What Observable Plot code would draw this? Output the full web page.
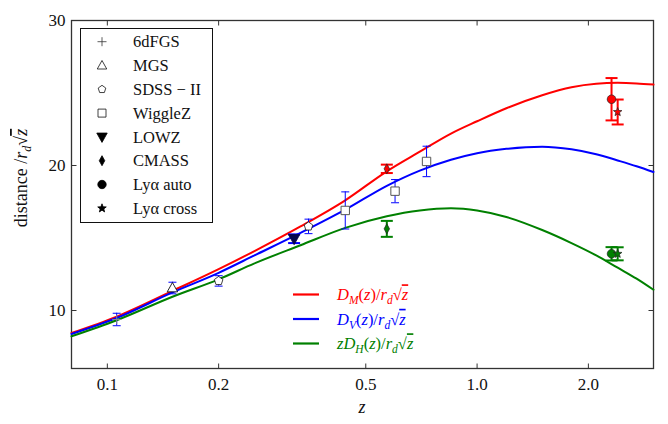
<!DOCTYPE html>
<html>
<head>
<meta charset="utf-8">
<script src="https://cdn.jsdelivr.net/npm/d3@7"></script>
<script src="https://cdn.jsdelivr.net/npm/@observablehq/plot@0.6"></script>
<style>
  html, body { margin: 0; padding: 0; background: white; }
  #chart { width: 668px; height: 424px; }
</style>
</head>
<body>
<div id="chart"></div>
<script>
// ---- model curves ----
const curveZ = [0.08, 0.106, 0.15, 0.2, 0.25, 0.333, 0.44, 0.57, 0.7, 0.85, 1.0, 1.2, 1.5, 1.8, 2.1, 2.4, 2.7, 3.0];
const dM  = [8.45, 9.58, 11.35, 12.85, 14.1, 15.8, 17.6, 19.6, 20.95, 22.2, 23.05, 23.95, 24.85, 25.4, 25.64, 25.7, 25.66, 25.58];
const dV  = [8.38, 9.48, 11.25, 12.6, 13.8, 15.35, 16.95, 18.6, 19.65, 20.4, 20.85, 21.15, 21.3, 21.12, 20.78, 20.35, 19.95, 19.55];
const zdH = [8.22, 9.33, 10.95, 12.15, 13.25, 14.5, 15.7, 16.5, 16.9, 17.05, 16.9, 16.45, 15.55, 14.65, 13.8, 12.95, 12.2, 11.43];

// ---- measurements ----
const pointSurvey = ["6dFGS","MGS","SDSS-II","SDSS-II","WiggleZ","WiggleZ","WiggleZ","LOWZ","CMASS","CMASS","Lya auto","Lya auto","Lya cross","Lya cross"];
const pointQty    = ["DV","DV","DV","DV","DV","DV","DV","DV","DM","DH","DM","DH","DM","DH"];
const pointZ      = [0.106, 0.15, 0.2, 0.35, 0.44, 0.6, 0.73, 0.32, 0.57, 0.57, 2.31, 2.31, 2.40, 2.40];
const pointVal    = [9.38, 11.55, 12.04, 15.8, 16.9, 18.23, 20.28, 14.95, 19.77, 15.63, 24.57, 13.91, 23.69, 13.91];
const pointErr    = [0.43, 0.4, 0.36, 0.5, 1.28, 0.8, 1.05, 0.3, 0.29, 0.55, 1.46, 0.46, 0.86, 0.45];

// ---- axes / legend text ----
const xTicks = [0.1, 0.2, 0.5, 1.0, 2.0];
const yTicks = [10, 20, 30];
const legendSurveys = ["6dFGS", "MGS", "SDSS \u2212 II", "WiggleZ", "LOWZ", "CMASS", "Ly\u03b1 auto", "Ly\u03b1 cross"];
const legendKeys = ["6dFGS","MGS","SDSS-II","WiggleZ","LOWZ","CMASS","Lya auto","Lya cross"];

// ---- styles ----
const qtyColor = {DM: "#ff0000", DV: "#0000ff", DH: "#008000"};
const thickSurveys = new Set(["LOWZ","CMASS","Lya auto","Lya cross"]);

function sym(fn) { return {draw(ctx, size) { fn(ctx, Math.sqrt(size / Math.PI)); }}; }
const capSym = sym((c, r) => { c.moveTo(-r, 0); c.lineTo(r, 0); });
const tickUp = sym((c, r) => { c.moveTo(0, 0); c.lineTo(0, -r); });
const tickDown = sym((c, r) => { c.moveTo(0, 0); c.lineTo(0, r); });
const tickRight = sym((c, r) => { c.moveTo(0, 0); c.lineTo(r, 0); });
const tickLeft = sym((c, r) => { c.moveTo(0, 0); c.lineTo(-r, 0); });
const pentagon = sym((c, r) => {
  for (let k = 0; k < 5; ++k) {
    const a = -Math.PI / 2 + k * 2 * Math.PI / 5;
    const px = r * Math.cos(a), py = r * Math.sin(a);
    if (k === 0) c.moveTo(px, py); else c.lineTo(px, py);
  }
  c.closePath();
});
const triUp = sym((c, r) => { c.moveTo(0, -r); c.lineTo(r * 0.95, r * 0.7); c.lineTo(-r * 0.95, r * 0.7); c.closePath(); });
const triDown = sym((c, r) => { c.moveTo(0, r); c.lineTo(r * 0.95, -r * 0.7); c.lineTo(-r * 0.95, -r * 0.7); c.closePath(); });
const squareSym = sym((c, r) => { c.rect(-r, -r, 2 * r, 2 * r); });
const diamondSym = sym((c, r) => { c.moveTo(0, -r); c.lineTo(r * 0.55, 0); c.lineTo(0, r); c.lineTo(-r * 0.55, 0); c.closePath(); });
const circleSym = sym((c, r) => { c.moveTo(r, 0); c.arc(0, 0, r, 0, 2 * Math.PI); });
const starSym = sym((c, r) => {
  for (let k = 0; k < 10; ++k) {
    const a = -Math.PI / 2 + k * Math.PI / 5;
    const rr = k % 2 ? r * 0.42 : r;
    const px = rr * Math.cos(a), py = rr * Math.sin(a);
    if (k === 0) c.moveTo(px, py); else c.lineTo(px, py);
  }
  c.closePath();
});
const plusSym = sym((c, r) => { c.moveTo(-r, 0); c.lineTo(r, 0); c.moveTo(0, -r); c.lineTo(0, r); });

const markerStyle = {
  "6dFGS":    {symbol: plusSym,    r: 4.5, fill: "none",  stroke: () => "#888888", sw: 1},
  "MGS":      {symbol: triUp,      r: 5.5, fill: () => "white", stroke: () => "#111", sw: 0.9},
  "SDSS-II":  {symbol: pentagon,   r: 4.5, fill: () => "white", stroke: () => "#111", sw: 0.8},
  "WiggleZ":  {symbol: squareSym,  r: 4.2, fill: () => "white", stroke: () => "#555", sw: 1},
  "LOWZ":     {symbol: triDown,    r: 6,   fill: () => "#06064a", stroke: () => "#06064a", sw: 0.8},
  "CMASS":    {symbol: diamondSym, r: 5,   fill: (q) => qtyColor[q], stroke: () => "#222", sw: 0.7},
  "Lya auto": {symbol: circleSym,  r: 4.3, fill: (q) => qtyColor[q], stroke: () => "#222", sw: 0.7},
  "Lya cross":{symbol: starSym,    r: 4.5, fill: (q) => qtyColor[q], stroke: () => "#222", sw: 0.7}
};

// ---- tables built from the arrays ----
const curves = [];
curveZ.forEach((z, i) => {
  curves.push({z, v: dM[i], q: "DM"});
  curves.push({z, v: dV[i], q: "DV"});
  curves.push({z, v: zdH[i], q: "DH"});
});
const points = pointZ.map((z, i) => ({
  survey: pointSurvey[i], q: pointQty[i], z, v: pointVal[i], e: pointErr[i],
  lo: pointVal[i] - pointErr[i], hi: pointVal[i] + pointErr[i],
  thick: thickSurveys.has(pointSurvey[i])
}));
const thin = points.filter(d => !d.thick);
const thick = points.filter(d => d.thick);

const X0 = 0.08, X1 = 3.0, Y0 = 6, Y1 = 30;

const marks = [
  Plot.frame({stroke: "#333", strokeWidth: 1.3}),
  Plot.dot(xTicks, {x: d => d, y: () => Y0, symbol: tickUp, r: 5, stroke: "#333", fill: "none", strokeWidth: 1}),
  Plot.dot(xTicks, {x: d => d, y: () => Y1, symbol: tickDown, r: 5, stroke: "#333", fill: "none", strokeWidth: 1}),
  Plot.dot(yTicks, {x: () => X0, y: d => d, symbol: tickRight, r: 5, stroke: "#333", fill: "none", strokeWidth: 1}),
  Plot.dot(yTicks, {x: () => X1, y: d => d, symbol: tickLeft, r: 5, stroke: "#333", fill: "none", strokeWidth: 1}),
  ...["DM", "DV", "DH"].map(q => Plot.line(curves.filter(d => d.q === q), {
    x: "z", y: "v", stroke: qtyColor[q], strokeWidth: 2, curve: "monotone-x"
  })),
  Plot.ruleX(thin, {x: "z", y1: "lo", y2: "hi", stroke: d => qtyColor[d.q], strokeWidth: 1}),
  Plot.dot(thin, {x: "z", y: "lo", symbol: capSym, r: 4, stroke: d => qtyColor[d.q], fill: "none", strokeWidth: 1}),
  Plot.dot(thin, {x: "z", y: "hi", symbol: capSym, r: 4, stroke: d => qtyColor[d.q], fill: "none", strokeWidth: 1}),
  Plot.ruleX(thick, {x: "z", y1: "lo", y2: "hi", stroke: d => qtyColor[d.q], strokeWidth: 2}),
  Plot.dot(thick, {x: "z", y: "lo", symbol: capSym, r: 6, stroke: d => qtyColor[d.q], fill: "none", strokeWidth: 2}),
  Plot.dot(thick, {x: "z", y: "hi", symbol: capSym, r: 6, stroke: d => qtyColor[d.q], fill: "none", strokeWidth: 2}),
  ...legendKeys.map(k => {
    const s = markerStyle[k];
    const data = points.filter(d => d.survey === k);
    return Plot.dot(data, {
      x: "z", y: "v", symbol: s.symbol, r: s.r,
      fill: s.fill === "none" ? "none" : d => s.fill(d.q),
      stroke: d => s.stroke(d.q), strokeWidth: s.sw
    });
  })
];

const chart = Plot.plot({
  width: 668, height: 424,
  marginLeft: 71, marginRight: 15, marginTop: 20, marginBottom: 56,
  style: {fontFamily: "'Liberation Serif', 'DejaVu Serif', serif", fontSize: "17px", background: "white", color: "#111"},
  x: {type: "log", domain: [X0, X1], ticks: xTicks, tickFormat: d => d.toFixed(1), tickSize: 0, tickPadding: 9, label: null},
  y: {domain: [Y0, Y1], ticks: yTicks, tickSize: 0, tickPadding: 6, label: null},
  marks
});
document.getElementById("chart").appendChild(chart);

// ---- legends and labels (layout only) ----
const svg = d3.select(chart);
const font = "'Liberation Serif', 'DejaVu Serif', serif";
const lg = svg.append("g").attr("text-anchor", "start");
lg.append("rect").attr("x", 80.5).attr("y", 28.5).attr("width", 132).attr("height", 194)
  .attr("fill", "white").attr("stroke", "#111").attr("stroke-width", 1);
const legendSym = {
  "6dFGS": [plusSym, 4.5, "none", "#333"],
  "MGS": [triUp, 5, "white", "#111"],
  "SDSS-II": [pentagon, 4, "white", "#111"],
  "WiggleZ": [squareSym, 4, "white", "#111"],
  "LOWZ": [triDown, 5.5, "#000", "#000"],
  "CMASS": [diamondSym, 5, "#000", "#000"],
  "Lya auto": [circleSym, 4.2, "#000", "#000"],
  "Lya cross": [starSym, 4.5, "#000", "#000"]
};
legendKeys.forEach((k, i) => {
  const y = 41.7 + i * 23.8;
  const [s, r, f, st] = legendSym[k];
  lg.append("path").attr("d", d3.symbol(s, r * r * Math.PI)())
    .attr("transform", `translate(102,${y})`).attr("fill", f).attr("stroke", st).attr("stroke-width", 0.8);
  lg.append("text").attr("x", 133).attr("y", y).attr("dy", "0.35em").attr("text-anchor", "start")
    .attr("font-family", font).attr("font-size", 16.5).attr("fill", "#111").text(legendSurveys[i]);
});

// line legend
const lineLegend = [
  {q: "DM", pre: "", sub: "M"},
  {q: "DV", pre: "", sub: "V"},
  {q: "DH", pre: "z", sub: "H"}
];
const ll = svg.append("g").attr("text-anchor", "start");
lineLegend.forEach((d, i) => {
  const y = 294.5 + i * 24.5;
  const col = qtyColor[d.q];
  ll.append("line").attr("x1", 293).attr("x2", 319).attr("y1", y).attr("y2", y)
    .attr("stroke", col).attr("stroke-width", 2.2);
  const t = ll.append("text").attr("x", 337).attr("y", y).attr("dy", "0.35em").attr("text-anchor", "start")
    .attr("font-family", font).attr("font-size", 16.5).attr("fill", col);
  if (d.pre) t.append("tspan").attr("font-style", "italic").text(d.pre);
  t.append("tspan").attr("font-style", "italic").text("D");
  t.append("tspan").attr("font-style", "italic").attr("font-size", 11.5).attr("dy", 4).text(d.sub);
  t.append("tspan").attr("dy", -4).text("(");
  t.append("tspan").attr("font-style", "italic").text("z");
  t.append("tspan").text(")/");
  t.append("tspan").attr("font-style", "italic").text("r");
  t.append("tspan").attr("font-style", "italic").attr("font-size", 11.5).attr("dy", 4).text("d");
  t.append("tspan").attr("dy", -4).text("\u221a");
  t.append("tspan").attr("font-style", "italic").attr("text-decoration", "overline").text("z");
});

// y label
const yl = svg.append("text").attr("transform", "translate(27,178) rotate(-90)")
  .attr("text-anchor", "middle").attr("font-family", font).attr("font-size", 18).attr("fill", "#111");
yl.append("tspan").text("distance /");
yl.append("tspan").attr("font-style", "italic").text("r");
yl.append("tspan").attr("font-style", "italic").attr("font-size", 12).attr("dy", 4).text("d");
yl.append("tspan").attr("dy", -4).text("\u221a");
yl.append("tspan").attr("font-style", "italic").attr("text-decoration", "overline").text("z");

// x label
svg.append("text").attr("x", 362).attr("y", 413).attr("text-anchor", "middle")
  .attr("font-family", font).attr("font-size", 18).attr("font-style", "italic").attr("fill", "#111").text("z");
</script>
</body>
</html>
